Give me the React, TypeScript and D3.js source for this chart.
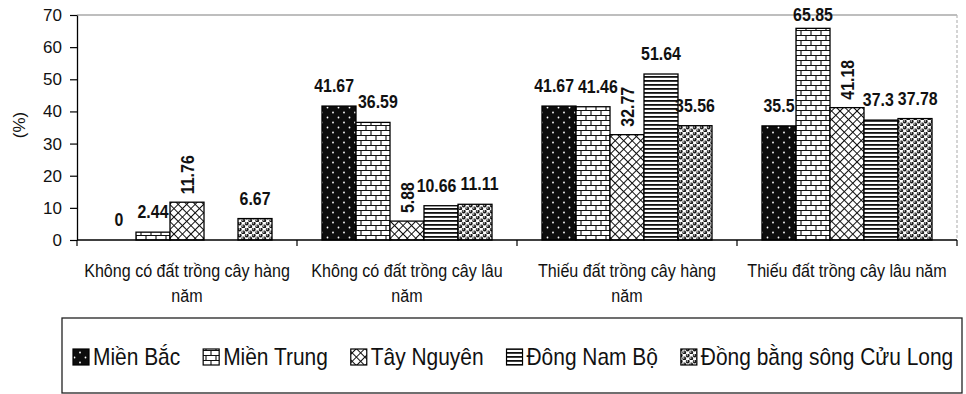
import React, { useEffect, useRef } from 'react';
import * as d3 from 'd3';

// Chart data
const categories = [
  'Không có đất trồng cây hàng năm',
  'Không có đất trồng cây lâu năm',
  'Thiếu đất trồng cây hàng năm',
  'Thiếu đất trồng cây lâu năm',
];
const seriesNames = ['Miền Bắc', 'Miền Trung', 'Tây Nguyên', 'Đông Nam Bộ', 'Đồng bằng sông Cửu Long'];
const mienBac: (number | null)[] = [0, 41.67, 41.67, 35.5];
const mienTrung: (number | null)[] = [2.44, 36.59, 41.46, 65.85];
const tayNguyen: (number | null)[] = [11.76, 5.88, 32.77, 41.18];
const dongNamBo: (number | null)[] = [null, 10.66, 51.64, 37.3];
const dongBangSCL: (number | null)[] = [6.67, 11.11, 35.56, 37.78];
const yTicks = [0, 10, 20, 30, 40, 50, 60, 70];
const yTitle = '(%)';

const seriesValues = [mienBac, mienTrung, tayNguyen, dongNamBo, dongBangSCL];
const patternIds = ['pat-bac', 'pat-trung', 'pat-tay', 'pat-dong', 'pat-dbscl'];
const verticalLabelSeries = new Set(['Tây Nguyên']);

const FONT = "'Liberation Sans', Arial, sans-serif";
const INK = '#111';

export default function App() {
  const ref = useRef<SVGSVGElement>(null);

  useEffect(() => {
    const svg = d3.select(ref.current!);
    svg.selectAll('*').remove();

    const left = 77, right = 957, top = 15, bottom = 240;

    const x0 = d3.scaleBand<string>().domain(categories).range([left, right]);
    const x1 = d3.scaleBand<string>().domain(seriesNames).range([0, x0.bandwidth()]).paddingOuter(0.735);
    const y = d3.scaleLinear().domain([0, 70]).range([bottom, top]);

    // ---- fill patterns ----
    const defs = svg.append('defs');
    const mk = (id: string, w: number, h: number) =>
      defs.append('pattern').attr('id', id).attr('patternUnits', 'userSpaceOnUse').attr('width', w).attr('height', h);

    const pBac = mk('pat-bac', 11, 10);
    pBac.append('rect').attr('width', 11).attr('height', 10).attr('fill', '#0d0d0d');
    pBac.append('circle').attr('cx', 3).attr('cy', 2.5).attr('r', 0.9).attr('fill', '#fff');
    pBac.append('circle').attr('cx', 8.5).attr('cy', 7.5).attr('r', 0.9).attr('fill', '#fff');

    const pTrung = mk('pat-trung', 10, 10);
    pTrung.append('rect').attr('width', 10).attr('height', 10).attr('fill', '#fff');
    pTrung.append('path')
      .attr('d', 'M0,0.5H10M0,5.5H10M1,0.5V5.5M6,5.5V10.5')
      .attr('stroke', INK).attr('stroke-width', 1.1).attr('fill', 'none');

    const pTay = mk('pat-tay', 6, 6).attr('patternTransform', 'rotate(45)');
    pTay.append('rect').attr('width', 6).attr('height', 6).attr('fill', '#fff');
    pTay.append('path').attr('d', 'M0,0.5H6M0.5,0V6').attr('stroke', INK).attr('stroke-width', 1).attr('fill', 'none');

    const pDong = mk('pat-dong', 4, 4);
    pDong.append('rect').attr('width', 4).attr('height', 4).attr('fill', '#fff');
    pDong.append('rect').attr('y', 0).attr('width', 4).attr('height', 1.8).attr('fill', INK);

    const pDb = mk('pat-dbscl', 7, 6);
    pDb.append('rect').attr('width', 7).attr('height', 6).attr('fill', '#fff');
    [[1.75, 1.5], [5.25, 4.5], [-1.75, 4.5], [8.75, 1.5]].forEach(([cx, cy]) => {
      pDb.append('circle').attr('cx', cx).attr('cy', cy).attr('r', 1.9).attr('fill', '#1a1a1a');
      pDb.append('circle').attr('cx', cx - 0.5).attr('cy', cy - 0.5).attr('r', 0.7).attr('fill', '#fff');
    });

    // ---- plot frame ----
    svg.append('line').attr('x1', left).attr('x2', right).attr('y1', top).attr('y2', top)
      .attr('stroke', '#a8a8a8').attr('stroke-width', 1.5);
    svg.append('line').attr('x1', right).attr('x2', right).attr('y1', top).attr('y2', bottom)
      .attr('stroke', '#b8b8b8').attr('stroke-width', 1.2).attr('stroke-dasharray', '3,2');

    // ---- bars ----
    const barG = svg.append('g');
    seriesNames.forEach((s, si) => {
      categories.forEach((c, ci) => {
        const v = seriesValues[si][ci];
        if (v === null) return;
        barG.append('rect')
          .attr('x', x0(c)! + x1(s)!)
          .attr('y', y(v))
          .attr('width', x1.bandwidth())
          .attr('height', y(0) - y(v))
          .attr('fill', `url(#${patternIds[si]})`)
          .attr('stroke', '#000')
          .attr('stroke-width', 1.3);
      });
    });

    // ---- y axis ----
    const yAxis = d3.axisLeft(y).tickValues(yTicks).tickSize(7).tickSizeOuter(0).tickPadding(8);
    const ya = svg.append('g').attr('transform', `translate(${left},0)`).call(yAxis);
    ya.select('.domain').attr('stroke', '#000').attr('stroke-width', 1.3);
    ya.selectAll('.tick line').attr('stroke', '#000').attr('stroke-width', 1.2);
    ya.selectAll('.tick text').attr('font-family', FONT).attr('font-size', 17).attr('fill', INK);

    svg.append('text')
      .attr('transform', `translate(25,125) rotate(-90)`)
      .attr('text-anchor', 'middle')
      .attr('font-family', FONT).attr('font-size', 17).attr('fill', INK)
      .text(yTitle);

    // ---- x axis ----
    svg.append('line').attr('x1', left).attr('x2', right).attr('y1', bottom).attr('y2', bottom)
      .attr('stroke', '#000').attr('stroke-width', 1.3);
    const bounds = [...categories.map((c) => x0(c)!), right];
    svg.append('g').selectAll('line').data(bounds).join('line')
      .attr('x1', (d) => d).attr('x2', (d) => d).attr('y1', bottom).attr('y2', bottom + 6)
      .attr('stroke', '#000').attr('stroke-width', 1.2);

    // category labels, wrapped to the band width
    const catSx = 0.87;
    const catFs = 18.5;
    const catG = svg.append('g');
    categories.forEach((c) => {
      const cx = x0(c)! + x0.bandwidth() / 2;
      const words = c.split(' ');
      const lines: string[] = [];
      let cur = '';
      const probe = catG.append('text').attr('font-family', FONT).attr('font-size', catFs);
      words.forEach((w) => {
        const test = cur ? cur + ' ' + w : w;
        probe.text(test);
        const wpx = (probe.node() as SVGTextElement).getComputedTextLength() * catSx;
        if (wpx > 209 && cur) {
          lines.push(cur);
          cur = w;
        } else cur = test;
      });
      lines.push(cur);
      probe.remove();
      lines.forEach((ln, i) => {
        catG.append('text')
          .attr('transform', `translate(${cx},${277 + i * 25}) scale(${catSx},1)`)
          .attr('text-anchor', 'middle')
          .attr('font-family', FONT).attr('font-size', catFs).attr('fill', INK)
          .text(ln);
      });
    });

    // ---- value labels ----
    const lblSx = 0.86;
    const lblFs = 18.5;
    const lblG = svg.append('g');
    categories.forEach((c, ci) => {
      type L = { cx: number; by: number; w: number; node: any };
      const flat: L[] = [];
      seriesNames.forEach((s, si) => {
        const v = seriesValues[si][ci];
        if (v === null) return;
        const cx = x0(c)! + x1(s)! + x1.bandwidth() / 2;
        const txt = String(v);
        if (verticalLabelSeries.has(s)) {
          lblG.append('text')
            .attr('transform', `translate(${cx},${y(v) - 8}) rotate(-90) scale(${lblSx},1)`)
            .attr('dy', '0.36em')
            .attr('font-family', FONT).attr('font-size', lblFs).attr('font-weight', 'bold').attr('fill', INK)
            .text(txt);
        } else {
          // keep the label inside the plot area near the top
          const by = Math.max(y(v) - 14, top + 6);
          const node = lblG.append('text')
            .attr('text-anchor', 'middle')
            .attr('font-family', FONT).attr('font-size', lblFs).attr('font-weight', 'bold').attr('fill', INK)
            .text(txt);
          const w = (node.node() as SVGTextElement).getComputedTextLength() * lblSx;
          flat.push({ cx, by, w, node });
        }
      });
      // nudge neighbouring labels apart when they collide
      for (let i = 0; i < flat.length - 1; i++) {
        const a = flat[i], b = flat[i + 1];
        if (Math.abs(a.by - b.by) < 18) {
          const overlap = a.cx + a.w / 2 + 4 - (b.cx - b.w / 2);
          if (overlap > 0) {
            a.cx -= overlap / 2;
            b.cx += overlap / 2;
          }
        }
      }
      flat.forEach((l) => l.node.attr('transform', `translate(${l.cx},${l.by}) scale(${lblSx},1)`));
    });

    // ---- legend ----
    const lg = svg.append('g');
    lg.append('rect').attr('x', 62).attr('y', 318).attr('width', 900).attr('height', 75)
      .attr('fill', '#fff').attr('stroke', '#222').attr('stroke-width', 1.3);
    const legSx = 0.91;
    let lx = 73;
    seriesNames.forEach((s, si) => {
      lg.append('rect').attr('x', lx).attr('y', 349).attr('width', 16).attr('height', 16)
        .attr('fill', `url(#${patternIds[si]})`).attr('stroke', '#000').attr('stroke-width', 1.2);
      const t = lg.append('text')
        .attr('transform', `translate(${lx + 20},365) scale(${legSx},1)`)
        .attr('font-family', FONT).attr('font-size', 23).attr('fill', INK)
        .text(s);
      const tw = (t.node() as SVGTextElement).getComputedTextLength() * legSx;
      lx += 20 + tw + 23;
    });
  }, []);

  return (
    <svg
      ref={ref}
      width={966}
      height={394}
      style={{ position: 'absolute', left: 0, top: 0, background: '#fff' }}
    />
  );
}
